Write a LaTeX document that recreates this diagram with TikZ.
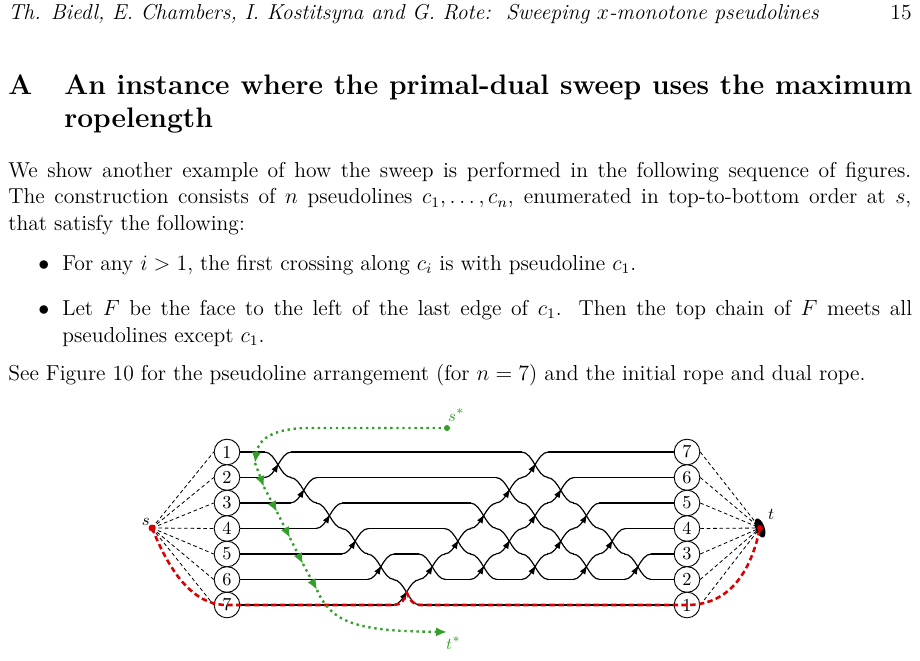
\documentclass[tikz,border=0pt]{standalone}
\usetikzlibrary{arrows.meta,decorations.markings}
\definecolor{dgreen}{RGB}{50,160,40}
\begin{document}
\begin{tikzpicture}[x=0.546pt,y=-0.546pt,
  txt/.style={anchor=base west,inner sep=0pt,font=\fontsize{11.8}{14}\selectfont},
  hfont/.style={font=\fontsize{15.4}{18}\selectfont\bfseries},
  wire/.style={line width=0.65pt},
  asc/.style={wire,decoration={markings,mark=at position 0.55 with {\arrow{Latex[length=5pt,width=3.5pt]}}},postaction=decorate},
  lab/.style={circle,draw,line width=0.5pt,minimum size=14pt,inner sep=0pt,fill=white,font=\fontsize{10}{10}\selectfont},
  dl/.style={dashed,line width=0.45pt,dash pattern=on 2pt off 1.5pt},
  rope/.style={red!85!black,line width=1.4pt,dash pattern=on 3pt off 1.8pt},
  dual/.style={dgreen,line width=1.3pt,dotted,-{Latex[length=6pt,width=5pt]}},
  gcol/.style={text=dgreen}]
\useasboundingbox (0,0) rectangle (920,661);
\fill[white] (0,0) rectangle (920,661);
% header
\node[txt] (hd) at (8,20) {\itshape Th. Biedl, E. Chambers, I. Kostitsyna and G. Rote:\ \ Sweeping $x$-monotone pseudolines};
\node[txt,anchor=base east] (pg) at (912,20) {15};
% heading
\node[txt,hfont] (sa) at (8,95) {A};
\node[txt,hfont] (s1) at (64,95) {\makebox[463pt][s]{An instance where the primal-dual sweep uses the maximum}};
\node[txt,hfont] (s2) at (64,128) {ropelength};
% paragraph
\node[txt] (p1) at (8,178) {\makebox[493pt][s]{We show another example of how the sweep is performed in the following sequence of figures.}};
\node[txt] (p2) at (8,204) {\makebox[493pt][s]{The construction consists of $n$ pseudolines $c_1,\ldots,c_n$, enumerated in top-to-bottom order at $s$,}};
\node[txt] (p3) at (8,230) {that satisfy the following:};
\node[txt] (b1) at (38,270) {$\bullet$};
\node[txt] (i1) at (62,270) {For any $i>1$, the first crossing along $c_i$ is with pseudoline $c_1$.};
\node[txt] (b2) at (38,315) {$\bullet$};
\node[txt] (i2) at (62,315) {\makebox[464pt][s]{Let $F$ be the face to the left of the last edge of $c_1$. Then the top chain of $F$ meets all}};
\node[txt] (i3) at (62,342) {pseudolines except $c_1$.};
\node[txt] (p4) at (8,380) {See Figure 10 for the pseudoline arrangement (for $n=7$) and the initial rope and dual rope.};
% wires
\foreach \r in {1,...,7}{
  \draw[wire] (227,{452+25.5*(\r-1)}) -- (687,{452+25.5*(\r-1)});
}
\foreach \k/\g in {0/1,1/2,2/3,3/4,4/5,5/6,6/5,7/4,8/3,8/5,9/2,9/4,10/1,10/3,10/5,11/2,11/4,12/3,12/5,13/4,14/5}{
  \pgfmathsetmacro\xx{278+25.7*\k}
  \pgfmathsetmacro\ya{452+25.5*(\g-1)}
  \pgfmathsetmacro\yb{\ya+25.5}
  \fill[white] ({\xx-12.85},{\ya-2}) rectangle ({\xx+12.85},{\yb+2});
  \draw[wire] ({\xx-13.5},\ya) to[out=0,in=180,looseness=0.8] ({\xx+13.5},\yb);
  \draw[asc] ({\xx-13.5},\yb) to[out=0,in=180,looseness=0.8] ({\xx+13.5},\ya);
}
% s and t
\coordinate (s) at (152,528);
\coordinate (t) at (760,528);
\foreach \r [evaluate=\r as \n using int(8-\r)] in {1,...,7}{
  \node[lab] (L\r) at (227,{452+25.5*(\r-1)}) {\r};
  \node[lab] (R\r) at (687,{452+25.5*(\r-1)}) {\n};
  \draw[dl] (s) -- (L\r.west);
  \draw[dl] (R\r.east) -- (t);
}
\fill[rotate around={20:(t)}] (t) ellipse (4.5 and 10);
\node[anchor=south east,inner sep=1pt,font=\fontsize{9.5}{10}\selectfont] (sl) at (s) {$s$};
\node[anchor=south west,inner sep=1pt,font=\fontsize{9.5}{10}\selectfont] (tl) at (766,522) {$t$};
% rope
\draw[rope] (s) .. controls (175,585) and (200,605) .. (L7.center) -- (394,605) to[out=0,in=-110] (407,593) to[out=-70,in=180] (420,605) -- (R7.center) .. controls (720,605) and (748,585) .. (t);
\fill[red!85!black] (s) circle (3.5);
\fill[red!85!black] (t) circle (3);
% dual rope
\coordinate (ss) at (447,428);
\coordinate (tt) at (447,632);
\coordinate (g1) at (255,463);
\coordinate (g2) at (264,487);
\coordinate (g3) at (277,512);
\coordinate (g4) at (290,538);
\coordinate (g5) at (303,564);
\coordinate (g6) at (317,590);
\fill[dgreen] (ss) circle (3);
\draw[dual] (ss) -- (310,428) .. controls (272,428) and (258,440) .. (g1);
\draw[dual] (g1) -- (g2);
\draw[dual] (g2) -- (g3);
\draw[dual] (g3) -- (g4);
\draw[dual] (g4) -- (g5);
\draw[dual] (g5) -- (g6);
\draw[dual] (g6) .. controls (332,625) and (362,631) .. (tt);
\node[gcol,anchor=south west,inner sep=1pt,font=\fontsize{9.5}{10}\selectfont] (ssl) at (446,424) {$s^*$};
\node[gcol,anchor=north west,inner sep=1pt,font=\fontsize{9.5}{10}\selectfont] (ttl) at (444,634) {$t^*$};
\end{tikzpicture}
\end{document}
